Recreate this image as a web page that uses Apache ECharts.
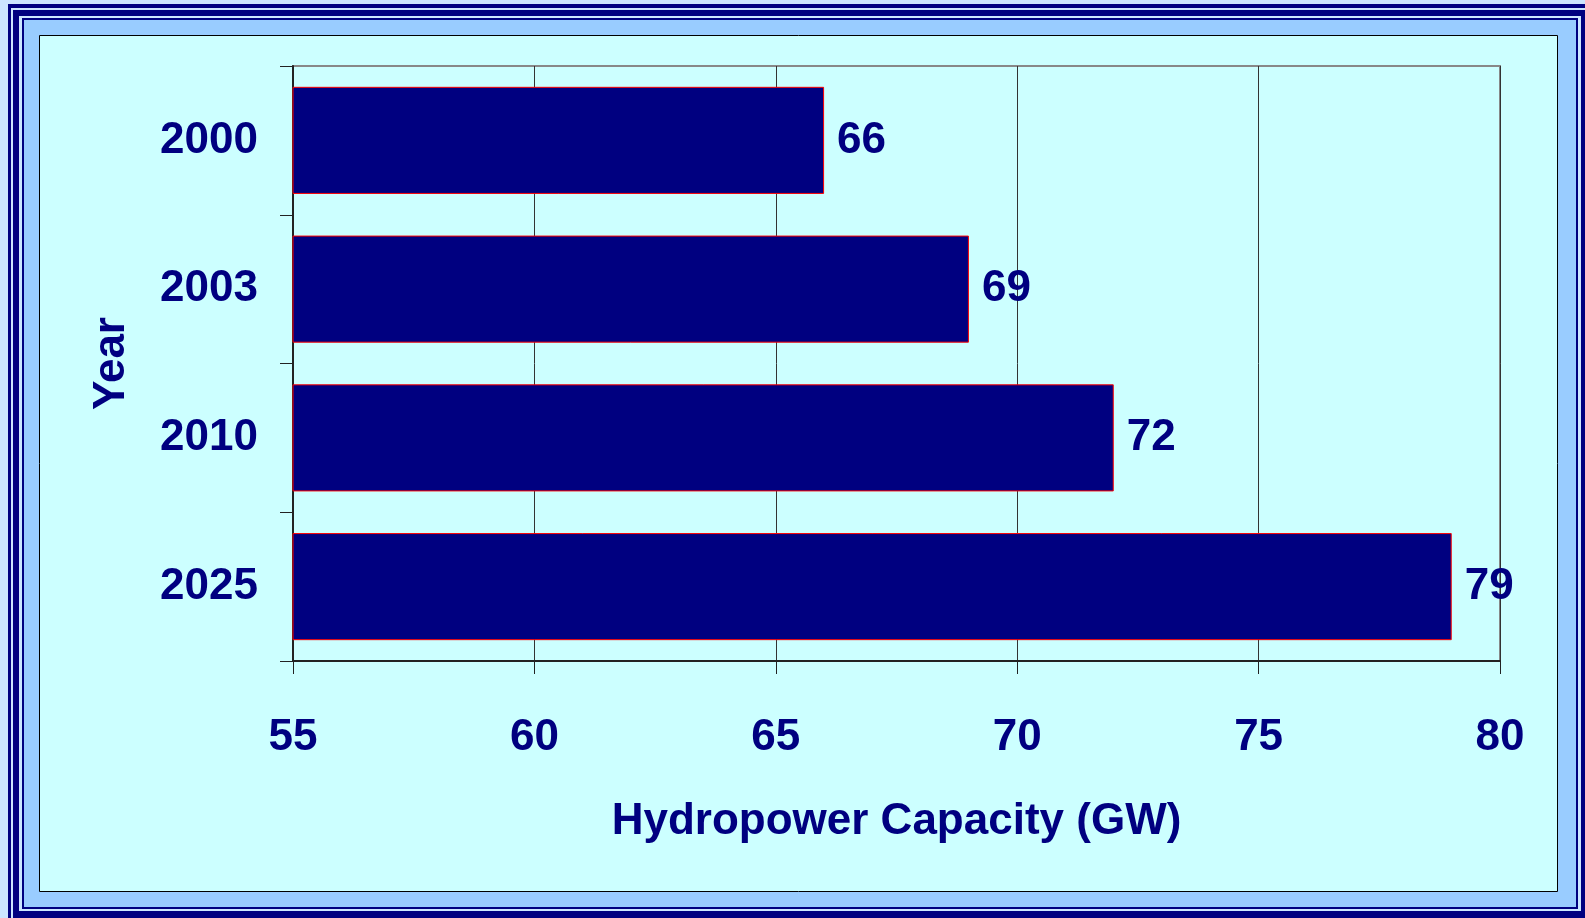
<!DOCTYPE html>
<html>
<head>
<meta charset="utf-8">
<script src="https://cdn.jsdelivr.net/npm/echarts@6/dist/echarts.min.js"></script>
<style>
  html, body { margin: 0; padding: 0; background: #cce6ff; }
  #chart { width: 1585px; height: 918px; }
</style>
</head>
<body>
<div id="chart"></div>
<script>
  // years and hydropower capacity (GW)
  const years = ['2000', '2003', '2010', '2025']
  const capacity = [66, 69, 72, 79]
  const xTicks = { min: 55, max: 80, interval: 5 }

  const navy = '#000080'
  const fontFamily = 'Liberation Sans, Arial, sans-serif'

  const chart = echarts.init(document.getElementById('chart'))

  /** frame behind the plot */
  function frame(x, y, w, h, fill, stroke) {
    return {
      type: 'rect',
      z: -10,
      shape: { x: x, y: y, width: w, height: h },
      style: { fill: fill, stroke: stroke || null, lineWidth: stroke ? 1 : 0 },
      silent: true
    }
  }

  chart.setOption({
    backgroundColor: '#cce6ff',
    graphic: {
      elements: [
        frame(8, 4, 1700, 1000, navy),
        frame(11, 8, 1700, 1000, '#cce6ff'),
        frame(13, 10, 1700, 1000, navy),
        frame(19, 16, 1562, 895, '#cce6ff'),
        frame(22, 18, 1556, 891, navy),
        frame(24, 20, 1552, 887, '#99ccff'),
        frame(39.5, 35.5, 1518, 856, '#ccffff', '#000000')
      ]
    },
    grid: {
      left: 293,
      right: 85,
      top: 66,
      bottom: 257,
      show: true,
      backgroundColor: 'transparent',
      borderColor: '#888888',
      borderWidth: 2
    },
    xAxis: {
      type: 'value',
      min: xTicks.min,
      max: xTicks.max,
      interval: xTicks.interval,
      name: 'Hydropower Capacity (GW)',
      nameLocation: 'middle',
      nameGap: 139,
      nameTextStyle: { color: navy, fontSize: 44, fontWeight: 'bold', fontFamily: fontFamily },
      axisLine: { show: true, lineStyle: { color: '#222222', width: 2 } },
      axisTick: { show: true, length: 13, lineStyle: { color: '#222222', width: 1 } },
      axisLabel: { color: navy, fontSize: 44, fontWeight: 'bold', fontFamily: fontFamily, margin: 55 },
      splitLine: { show: true, lineStyle: { color: '#333333', width: 1 } }
    },
    yAxis: {
      type: 'category',
      data: years,
      inverse: true,
      name: 'Year',
      nameLocation: 'middle',
      nameGap: 159,
      nameTextStyle: { color: navy, fontSize: 44, fontWeight: 'bold', fontFamily: fontFamily },
      axisLine: { show: true, lineStyle: { color: '#222222', width: 2 } },
      axisTick: { show: true, length: 13, lineStyle: { color: '#222222', width: 1 } },
      axisLabel: { color: navy, fontSize: 44, fontWeight: 'bold', fontFamily: fontFamily, margin: 35 },
      splitLine: { show: false }
    },
    series: [
      {
        type: 'bar',
        data: capacity,
        barCategoryGap: '28%',
        itemStyle: { color: navy, borderColor: '#ff0000', borderWidth: 1 },
        label: {
          show: true,
          position: 'right',
          distance: 13,
          color: navy,
          fontSize: 44,
          fontWeight: 'bold',
          fontFamily: fontFamily
        },
        animation: false
      }
    ],
    animation: false
  })
</script>
</body>
</html>
